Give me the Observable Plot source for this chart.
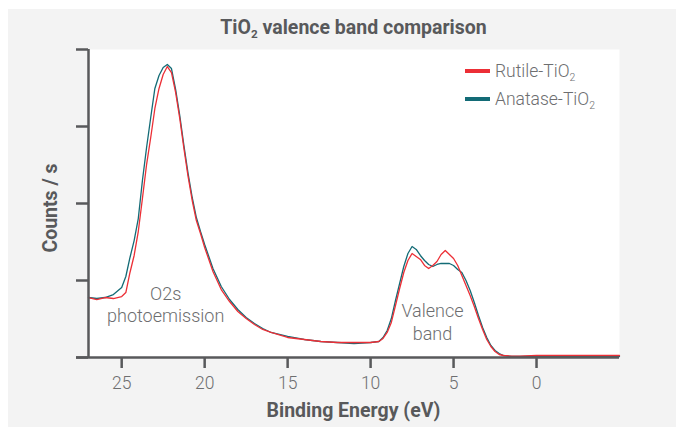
<!DOCTYPE html>
<html><head><meta charset="utf-8">
<script src="https://cdn.jsdelivr.net/npm/d3@7"></script>
<script src="https://cdn.jsdelivr.net/npm/@observablehq/plot@0.6"></script>
<style>
body{margin:0;background:#fff;width:676px;height:427px;position:relative;overflow:hidden;font-family:Roboto,"Liberation Sans",Arial,sans-serif;}
#panel{position:absolute;left:8px;top:9px;right:0;bottom:0;background:#f3f3f3;}
#chart{position:absolute;left:0;top:0;}
.sub{font-size:0.6em;position:relative;top:0.35em;}
#title{position:absolute;left:88px;width:531px;top:17px;text-align:center;font-weight:700;font-size:19.5px;line-height:22px;color:#58595b;}
#xlabel{position:absolute;left:88px;width:531px;top:400px;text-align:center;font-weight:700;font-size:19.5px;line-height:22px;color:#58595b;}
#ylabel{position:absolute;left:51px;top:208px;transform:translate(-50%,-50%) rotate(-90deg);white-space:nowrap;font-weight:700;font-size:19.5px;line-height:22px;color:#58595b;}
.leg{position:absolute;left:465px;font-size:17.5px;font-weight:300;color:#6d6e70;white-space:nowrap;line-height:20px;}
.sw{display:inline-block;width:25px;height:4px;vertical-align:middle;margin-right:5px;position:relative;top:-1px;}
</style></head>
<body>
<div id="panel"></div>
<div id="chart"></div>
<div id="title">TiO<span class="sub">2</span> valence band comparison</div>
<div id="xlabel">Binding Energy (eV)</div>
<div id="ylabel">Counts / s</div>
<div class="leg" style="top:61px"><span class="sw" style="background:#ec2f36"></span>Rutile-TiO<span class="sub">2</span></div>
<div class="leg" style="top:89px"><span class="sw" style="background:#136b76"></span>Anatase-TiO<span class="sub">2</span></div>
<script>
const energy = [27, 26.5, 26, 25.5, 25, 24.75, 24.5, 24.25, 24, 23.75, 23.5, 23.25, 23, 22.75, 22.5, 22.25, 22,
  21.75, 21.5, 21.25, 21, 20.75, 20.5, 20.25, 20, 19.5, 19, 18.5, 18, 17.5, 17, 16.5, 16, 15, 14, 13, 12, 11, 10,
  9.5, 9.25, 9, 8.75, 8.5, 8.25, 8, 7.75, 7.5, 7.25, 7, 6.75, 6.5, 6.25, 6, 5.75, 5.5, 5.25, 5, 4.75, 4.5, 4.25, 4,
  3.75, 3.5, 3.25, 3, 2.75, 2.5, 2.25, 2, 1.5, 1, 0, -1, -2, -3, -4, -5];
const rutile = [779, 753, 779, 766, 792, 844, 1104, 1325, 1636, 2065, 2506, 2857, 3234, 3494, 3675, 3779, 3701,
  3442, 3104, 2714, 2351, 2039, 1779, 1610, 1429, 1117, 883, 727, 597, 506, 429, 364, 325, 260, 234, 208, 195, 195, 195,
  208, 247, 325, 455, 675, 896, 1104, 1260, 1351, 1312, 1273, 1195, 1156, 1195, 1247, 1338, 1390, 1338, 1286, 1195, 1065, 935, 805,
  662, 506, 364, 234, 143, 78, 39, 26, 19, 19, 26, 26, 26, 26, 26, 26];
const anatase = [779, 766, 779, 818, 909, 1052, 1299, 1519, 1805, 2299, 2727, 3117, 3494, 3662, 3766, 3805, 3753,
  3481, 3143, 2753, 2390, 2078, 1818, 1636, 1468, 1156, 922, 753, 623, 519, 442, 377, 325, 273, 234, 208, 195, 182, 195,
  208, 260, 351, 506, 740, 961, 1182, 1351, 1442, 1403, 1325, 1260, 1208, 1182, 1208, 1221, 1221, 1221, 1195, 1143, 1104, 1000, 870,
  714, 545, 390, 260, 156, 91, 52, 26, 13, 13, 19, 13, 13, 13, 13, 13];
const xTicks = [25, 20, 15, 10, 5, 0];
const yTicks = [0, 1000, 2000, 3000, 4000];
const annLabels = ["O2s\nphotoemission", "Valence\nband"];
const annEnergy = [22.35, 6.27];
const annCounts = [700, 468];

const rows = energy.map((e, i) => ({energy: e, rutile: rutile[i], anatase: anatase[i]}));
const anns = annLabels.map((t, i) => ({text: t, energy: annEnergy[i], counts: annCounts[i]}));
const axisColor = "#58595b";
const red = "#ec2f36", teal = "#136b76";

const chart = Plot.plot({
  width: 676, height: 427,
  marginLeft: 88, marginRight: 57, marginTop: 49, marginBottom: 70,
  style: {background: "transparent", fontFamily: "Roboto, 'Liberation Sans', Arial, sans-serif", overflow: "visible"},
  x: {domain: [27, -5], label: null},
  y: {domain: [0, 4000], label: null},
  marks: [
    Plot.frame({fill: "white", stroke: null}),
    Plot.line(rows, {x: "energy", y: "anatase", stroke: teal, strokeWidth: 1.3}),
    Plot.line(rows, {x: "energy", y: "rutile", stroke: red, strokeWidth: 1.3}),
    Plot.ruleX([27], {stroke: axisColor, strokeWidth: 2.5}),
    Plot.ruleY([0], {x1: 27.72, x2: -5, stroke: axisColor, strokeWidth: 2.5}),
    Plot.axisY({ticks: yTicks, tickSize: 12, tickFormat: () => "", stroke: axisColor, strokeWidth: 2.5, label: null}),
    Plot.axisX({ticks: xTicks, tickSize: 11, tickPadding: 8, fontSize: 17.5, fontWeight: 300, fill: "#6d6e70", stroke: axisColor, strokeWidth: 2.5, label: null}),
    Plot.text(anns, {x: "energy", y: "counts", text: "text", fontSize: 18, fontWeight: 300, fill: "#6d6e70", lineHeight: 1.25})
  ]
});
document.getElementById("chart").appendChild(chart);
</script>
</body></html>
